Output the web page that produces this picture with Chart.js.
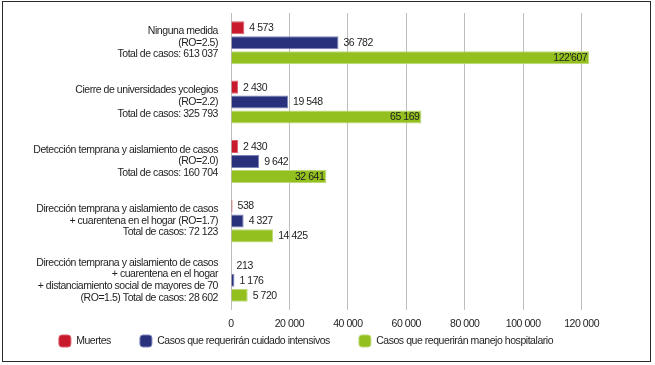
<!DOCTYPE html>
<html>
<head>
<meta charset="utf-8">
<script src="https://cdn.jsdelivr.net/npm/chart.js@4"></script>
<style>
  html, body { margin: 0; padding: 0; background: #fff; }
  #wrap { position: relative; width: 655px; height: 365px; }
  #frame { position: absolute; left: 2px; top: 1px; width: 649px; height: 361px; box-sizing: border-box; border: 1.5px solid #2a2a2a; pointer-events: none; }
  canvas { position: absolute; left: 0; top: 0; }
</style>
</head>
<body>
<div id="wrap">
  <canvas id="c" width="655" height="365"></canvas>
  <div id="frame"></div>
</div>
<script>
const categories = [
  ["Ninguna medida", "(RO=2.5)", "Total de casos: 613 037"],
  ["Cierre de universidades ycolegios", "(RO=2.2)", "Total de casos: 325 793"],
  ["Detección temprana y aislamiento de casos", "(RO=2.0)", "Total de casos: 160 704"],
  ["Dirección temprana y aislamiento de casos", "+ cuarentena en el hogar (RO=1.7)", "Total de casos: 72 123"],
  ["Dirección temprana y aislamiento de casos", "+ cuarentena en el hogar", "+ distanciamiento social de mayores de 70", "(RO=1.5) Total de casos: 28 602"]
];
const seriesNames = ["Muertes", "Casos que requerirán cuidado intensivos", "Casos que requerirán manejo hospitalario"];
const muertes = [4573, 2430, 2430, 538, 213];
const cuidadoIntensivo = [36782, 19548, 9642, 4327, 1176];
const manejoHospitalario = [122607, 65169, 32641, 14425, 5720];
const muertesText = ["4 573", "2 430", "2 430", "538", "213"];
const cuidadoText = ["36 782", "19 548", "9 642", "4 327", "1 176"];
const manejoText = ["122'607", "65 169", "32 641", "14 425", "5 720"];
const xTicks = [0, 20000, 40000, 60000, 80000, 100000, 120000];

const valueTexts = [muertesText, cuidadoText, manejoText];
const FONT = '"Liberation Sans", Arial, sans-serif';
const SPACING = '-0.45px';
const LEGEND_PAD = 29;

const tightText = {
  id: 'tightText',
  beforeInit(chart) { chart.ctx.letterSpacing = SPACING; },
  beforeUpdate(chart) { chart.ctx.letterSpacing = SPACING; },
  beforeDraw(chart) { chart.ctx.letterSpacing = SPACING; },
  afterLayout(chart) {
    const lg = chart.legend;
    if (lg) {
      lg.top = 335 - LEGEND_PAD;
      lg.height = 55;
      lg.bottom = lg.top + lg.height;
    }
  }
};

const valueLabels = {
  id: 'valueLabels',
  afterDatasetsDraw(chart) {
    const ctx = chart.ctx;
    ctx.save();
    ctx.letterSpacing = SPACING;
    ctx.font = '10.5px ' + FONT;
    ctx.fillStyle = '#1e1e1e';
    ctx.textBaseline = 'middle';
    chart.data.datasets.forEach((ds, di) => {
      const meta = chart.getDatasetMeta(di);
      meta.data.forEach((bar, i) => {
        const inside = di === 2 && ds.data[i] > 20000;
        ctx.textAlign = inside ? 'right' : 'left';
        ctx.fillText(valueTexts[di][i], inside ? bar.x - 2 : bar.x + 5, bar.y + 0.5);
      });
    });
    ctx.restore();
  }
};

const fmt = v => String(v).replace(/\B(?=(\d{3})+(?!\d))/g, ' ');

new Chart(document.getElementById('c'), {
  type: 'bar',
  data: {
    labels: categories,
    datasets: [
      { label: seriesNames[0], data: muertes, backgroundColor: '#c8192d', borderColor: '#d9606c', borderWidth: 1 },
      { label: seriesNames[1], data: cuidadoIntensivo, backgroundColor: '#29317d', borderColor: '#7d82b8', borderWidth: 1 },
      { label: seriesNames[2], data: manejoHospitalario, backgroundColor: '#93c01f', borderColor: '#bcd97a', borderWidth: 1 }
    ]
  },
  options: {
    indexAxis: 'y',
    responsive: false,
    animation: false,
    devicePixelRatio: 1,
    categoryPercentage: 0.756,
    barPercentage: 0.87,
    layout: { padding: { left: 0, right: 43, top: 13, bottom: 5 } },
    scales: {
      x: {
        min: 0,
        max: 130400,
        afterBuildTicks: axis => { axis.ticks = xTicks.map(v => ({ value: v })); },
        afterFit: s => { s.height = 20; },
        grid: { color: '#bdbdbd', lineWidth: 1, drawTicks: false },
        border: { display: false },
        ticks: { color: '#1e1e1e', font: { family: FONT, size: 10.5 }, padding: 8, callback: v => fmt(v), maxRotation: 0 }
      },
      y: {
        afterFit: s => { s.width = 231; s.paddingTop = 0; s.paddingBottom = 0; },
        grid: { display: false, drawTicks: false },
        border: { display: false },
        ticks: { color: '#1e1e1e', font: { family: FONT, size: 10.5, lineHeight: 1.1 }, padding: 13 }
      }
    },
    plugins: {
      legend: {
        position: 'bottom',
        maxHeight: 30,
        labels: {
          color: '#1e1e1e',
          font: { family: FONT, size: 10.5 },
          boxWidth: 12,
          boxHeight: 12,
          padding: LEGEND_PAD,
          useBorderRadius: true,
          borderRadius: 3
        }
      },
      tooltip: { enabled: false }
    }
  },
  plugins: [tightText, valueLabels]
});
</script>
</body>
</html>
